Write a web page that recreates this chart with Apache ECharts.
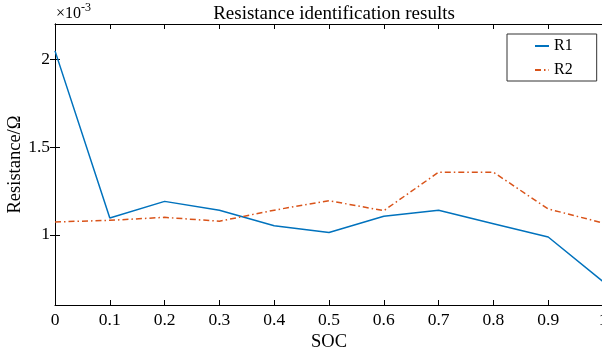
<!DOCTYPE html>
<html>
<head>
<meta charset="utf-8">
<script src="https://cdn.jsdelivr.net/npm/echarts@6/dist/echarts.min.js"></script>
<style>html,body{margin:0;padding:0;background:#fff}#c{width:602px;height:355px}</style>
</head>
<body>
<div id="c"></div>
<script>
// values in units of 1e-3 Ohm
const soc = [0, 0.1, 0.2, 0.3, 0.4, 0.5, 0.6, 0.7, 0.8, 0.9, 1.0];
const r1 = [2.047, 1.095, 1.19, 1.139, 1.051, 1.013, 1.105, 1.139, 1.063, 0.987, 0.733];
const r2 = [1.073, 1.082, 1.099, 1.077, 1.140, 1.194, 1.137, 1.356, 1.356, 1.147, 1.067];
const yTicks = [1, 1.5, 2];
const xTicks = [0, 0.1, 0.2, 0.3, 0.4, 0.5, 0.6, 0.7, 0.8, 0.9, 1];

const font = 'Liberation Serif';
const chart = echarts.init(document.getElementById('c'), null, {renderer: 'canvas'});
const axisLine = {show: true, lineStyle: {color: '#000', width: 1}};
const tick = {show: true, inside: true, length: 5, lineStyle: {color: '#000', width: 1}};
chart.setOption({
  animation: false,
  backgroundColor: '#fff',
  title: {
    text: 'Resistance identification results',
    left: 329, top: 0, textAlign: 'center',
    textStyle: {fontFamily: font, fontSize: 19, fontWeight: 'normal', color: '#000'}
  },
  grid: {left: 55, top: 24, width: 548, height: 281, containLabel: false, outerBoundsMode: 'none'},
  legend: {
    left: 507, top: 34, orient: 'vertical',
    padding: [4, 24, 3, 27], itemGap: 8, itemWidth: 14, itemHeight: 14,
    borderColor: '#333', borderWidth: 1, backgroundColor: '#fff', borderRadius: 0,
    itemStyle: {opacity: 0},
    textStyle: {fontFamily: font, fontSize: 16, color: '#000'},
    data: ['R1', 'R2']
  },
  xAxis: [{
    type: 'value', min: 0, max: 1, interval: 0.1,
    name: 'SOC', nameLocation: 'middle', nameGap: 28, nameMoveOverlap: false,
    nameTextStyle: {fontFamily: font, fontSize: 18.5, color: '#000'},
    axisLine: axisLine, axisTick: tick, splitLine: {show: false},
    axisLabel: {fontFamily: font, fontSize: 17.5, color: '#000', margin: 6,
      customValues: xTicks, formatter: v => String(+v.toFixed(1))},
  }, {
    type: 'value', position: 'top', min: 0, max: 1, interval: 0.1,
    axisLine: axisLine, axisTick: tick, splitLine: {show: false},
    axisLabel: {show: false}
  }],
  yAxis: [{
    type: 'value', min: 0.6, max: 2.2,
    name: 'Resistance/Ω', nameLocation: 'middle', nameGap: 30, nameMoveOverlap: false,
    nameTextStyle: {fontFamily: font, fontSize: 18.5, color: '#000'},
    axisLine: axisLine,
    axisTick: Object.assign({}, tick, {customValues: yTicks}),
    splitLine: {show: false},
    axisLabel: {fontFamily: font, fontSize: 17.5, color: '#000', margin: 5,
      customValues: yTicks, formatter: v => String(v)}
  }, {
    type: 'value', position: 'right', min: 0.6, max: 2.2,
    axisLine: axisLine,
    axisTick: Object.assign({}, tick, {customValues: yTicks}),
    splitLine: {show: false}, axisLabel: {show: false}
  }],
  graphic: [{
    type: 'text', left: 56, top: 2,
    style: {
      text: '{a|×10}{b|-3}', fill: '#000',
      rich: {
        a: {fontFamily: font, fontSize: 16, fill: '#000', verticalAlign: 'bottom', lineHeight: 20},
        b: {fontFamily: font, fontSize: 12, fill: '#000', verticalAlign: 'top', lineHeight: 12}
      }
    }
  }],
  series: [{
    name: 'R1', type: 'line', symbol: 'none',
    data: soc.map((x, i) => [x, r1[i]]),
    lineStyle: {color: '#0072BD', width: 1.5}, itemStyle: {color: '#0072BD'}
  }, {
    name: 'R2', type: 'line', symbol: 'none',
    data: soc.map((x, i) => [x, r2[i]]),
    lineStyle: {color: '#D95319', width: 1.5, type: [6, 3, 1.5, 3]}, itemStyle: {color: '#D95319'}
  }]
});
</script>
</body>
</html>
